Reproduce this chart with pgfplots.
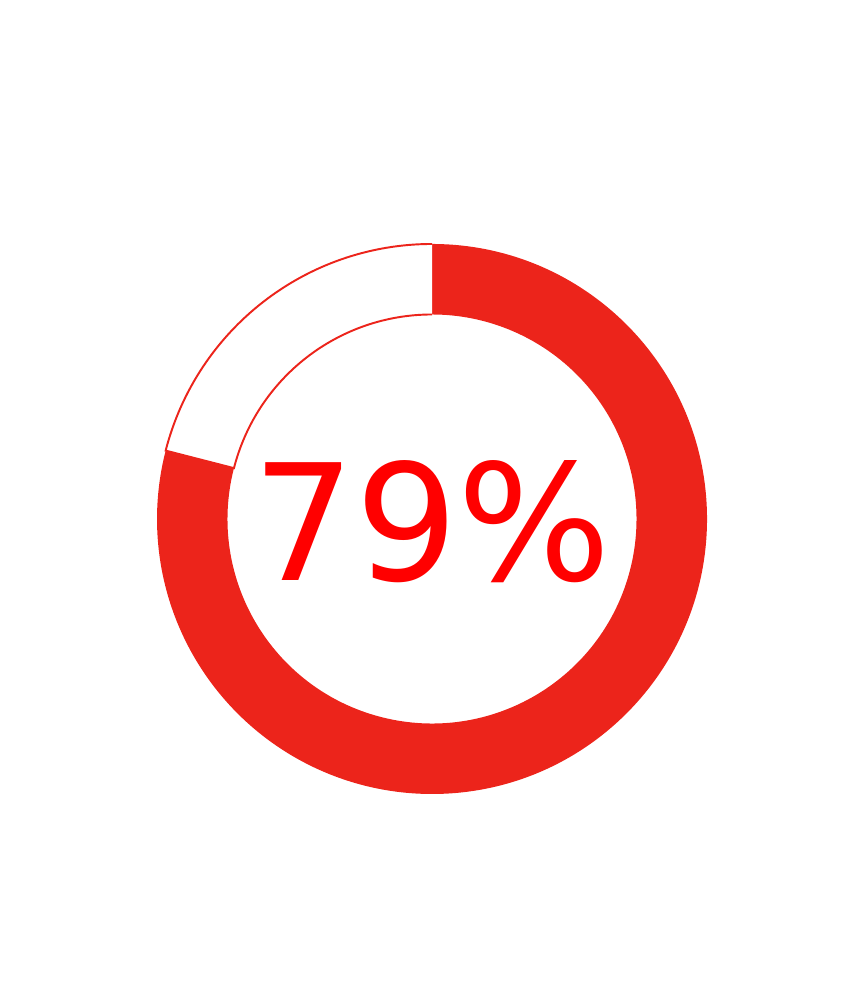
\documentclass[border=0pt]{standalone}
\usepackage{fontspec}
\setmainfont{DejaVu Sans}
\usepackage{pgfplots}
\usepackage{pgfplotstable}
\pgfplotsset{compat=1.18}
\usetikzlibrary{calc}
\definecolor{ring}{HTML}{EC241B}
\definecolor{txt}{HTML}{FF0000}
\pgfplotstableread{
part value
filled 79
rest 21
}\donutdata
\begin{document}
\begin{tikzpicture}
\pgfplotstablegetelem{0}{value}\of\donutdata
\pgfmathtruncatemacro{\pct}{\pgfplotsretval}
\pgfmathsetmacro{\endang}{90-3.6*\pct}
\pgfmathsetmacro{\ro}{2.75}
\pgfmathsetmacro{\ri}{2.045}
\begin{axis}[
  x=1cm, y=1cm,
  xmin=0, xmax=8.65, ymin=0, ymax=10,
  hide axis, clip=false,
]
% filled part
\fill[ring] (axis cs:4.32,7.56) arc[start angle=90, end angle=\endang, radius=\ro cm]
  -- ($(axis cs:4.32,4.81)+(\endang:\ri cm)$)
  arc[start angle=\endang, end angle=90, radius=\ri cm] -- cycle;
% remaining part, outlined
\draw[ring, line width=0.55pt, fill=white] (axis cs:4.32,7.56) arc[start angle=90, end angle=\endang+360, radius=\ro cm]
  -- ($(axis cs:4.32,4.81)+(\endang:\ri cm)$)
  arc[start angle=\endang+360, end angle=90, radius=\ri cm];
\node[text=txt, font=\fontsize{46}{50}\selectfont, anchor=center, inner sep=0pt] at (axis cs:4.32,4.78) {\pct\%};
\end{axis}
\path[use as bounding box] (0,0) rectangle (8.65,10);
\end{tikzpicture}
\end{document}
